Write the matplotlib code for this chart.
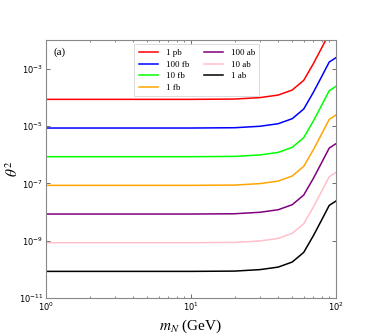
import matplotlib
matplotlib.use("Agg")
import matplotlib.pyplot as plt
from matplotlib.ticker import FixedLocator, LogLocator, NullFormatter, LogFormatterSciNotation

# heavy neutrino mass (GeV)
m_N = [1, 10, 20, 30, 40, 50, 60, 70, 80, 90, 100]

# theta^2 reach for each luminosity
theta2_1pb = [8.5e-5, 8.5e-5, 8.7e-5, 9.8e-5, 1.2e-4, 1.8e-4, 3.9e-4, 1.5e-3, 5.4e-3, 1.7e-2, 2.4e-2]
theta2_100fb = [8.5e-6, 8.5e-6, 8.7e-6, 9.8e-6, 1.2e-5, 1.8e-5, 3.9e-5, 1.5e-4, 5.4e-4, 1.7e-3, 2.4e-3]
theta2_10fb = [8.5e-7, 8.5e-7, 8.7e-7, 9.8e-7, 1.2e-6, 1.8e-6, 3.9e-6, 1.5e-5, 5.4e-5, 1.7e-4, 2.4e-4]
theta2_1fb = [8.5e-8, 8.5e-8, 8.7e-8, 9.8e-8, 1.2e-7, 1.8e-7, 3.9e-7, 1.5e-6, 5.4e-6, 1.7e-5, 2.4e-5]
theta2_100ab = [8.5e-9, 8.5e-9, 8.7e-9, 9.8e-9, 1.2e-8, 1.8e-8, 3.9e-8, 1.5e-7, 5.4e-7, 1.7e-6, 2.4e-6]
theta2_10ab = [8.5e-10, 8.5e-10, 8.7e-10, 9.8e-10, 1.2e-9, 1.8e-9, 3.9e-9, 1.5e-8, 5.4e-8, 1.7e-7, 2.4e-7]
theta2_1ab = [8.5e-11, 8.5e-11, 8.7e-11, 9.8e-11, 1.2e-10, 1.8e-10, 3.9e-10, 1.5e-9, 5.4e-9, 1.7e-8, 2.4e-8]

labels = ["1 pb", "100 fb", "10 fb", "1 fb", "100 ab", "10 ab", "1 ab"]
colors = ["red", "blue", "lime", "orange", "purple", "pink", "black"]
series = [theta2_1pb, theta2_100fb, theta2_10fb, theta2_1fb, theta2_100ab, theta2_10ab, theta2_1ab]
yticks = [1e-11, 1e-9, 1e-7, 1e-5, 1e-3]

fig = plt.figure(figsize=(3.74, 3.36), dpi=100)
ax = fig.add_axes([0.123, 0.113, 0.775, 0.768])

for y, lab, c in zip(series, labels, colors):
    ax.plot(m_N, y, color=c, lw=1.1, label=lab)

ax.set_xscale("log")
ax.set_yscale("log")
ax.set_xlim(1, 100)
ax.set_ylim(1e-11, 1e-2)

ax.yaxis.set_major_locator(FixedLocator(yticks))
ax.yaxis.set_major_formatter(LogFormatterSciNotation())
ax.yaxis.set_minor_locator(FixedLocator([]))
ax.yaxis.set_minor_formatter(NullFormatter())
ax.tick_params(which="both", direction="in", top=True, right=True, labelsize=6, color="#555555", pad=2)
ax.tick_params(which="major", length=3, width=0.6)
ax.tick_params(which="minor", length=1.5, width=0.5)

for s in ax.spines.values():
    s.set_color("#888888")
    s.set_linewidth(0.8)

ax.set_xlabel("$m_N$ (GeV)", fontsize=11, family="Liberation Serif", math_fontfamily="stix")
ax.xaxis.set_label_coords(0.5, -0.075)
ax.set_ylabel(r"$\theta^2$", fontsize=11, math_fontfamily="stix")
ax.yaxis.set_label_coords(-0.085, 0.5)

ax.text(0.025, 0.97, "(a)", transform=ax.transAxes, ha="left", va="top", fontsize=8, family="Liberation Serif")

leg = ax.legend(loc="upper center", bbox_to_anchor=(0.52, 1.0), ncol=2,
                prop={"family": "Liberation Serif", "size": 6.5}, frameon=True, fancybox=False,
                handlelength=2.2, columnspacing=1.6, labelspacing=0.35, borderpad=0.5)
leg.get_frame().set_edgecolor("#cccccc")
leg.get_frame().set_linewidth(0.6)

fig.savefig("out.png", dpi=100)
